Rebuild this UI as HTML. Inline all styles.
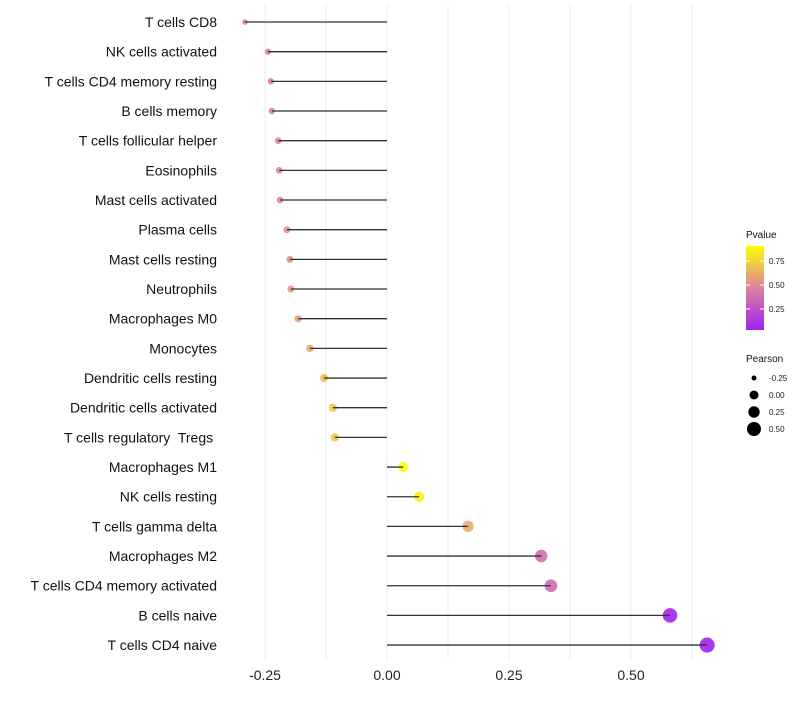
<!DOCTYPE html>
<html><head><meta charset="utf-8"><style>
body{margin:0;background:#fff;font-family:"Liberation Sans",sans-serif}
svg text{font-family:"Liberation Sans",sans-serif;white-space:pre}
</style></head><body>
<svg id="chart" width="800" height="700"></svg>
<script>
const categories=["T cells CD8","NK cells activated","T cells CD4 memory resting","B cells memory","T cells follicular helper","Eosinophils","Mast cells activated","Plasma cells","Mast cells resting","Neutrophils","Macrophages M0","Monocytes","Dendritic cells resting","Dendritic cells activated","T cells regulatory  Tregs ","Macrophages M1","NK cells resting","T cells gamma delta","Macrophages M2","T cells CD4 memory activated","B cells naive","T cells CD4 naive"];
const pearson=[-0.291,-0.244,-0.238,-0.236,-0.223,-0.221,-0.219,-0.205,-0.199,-0.197,-0.182,-0.158,-0.129,-0.111,-0.107,0.033,0.066,0.166,0.316,0.336,0.58,0.656];
const pvalue=[0.45,0.46,0.47,0.47,0.48,0.49,0.49,0.52,0.53,0.54,0.58,0.62,0.68,0.72,0.72,0.91,0.86,0.63,0.38,0.37,0.05,0.04];
const xTicks=[-0.25,0,0.25,0.5];
const xTickLabels=["-0.25","0.00","0.25","0.50"];
const legendP=[0.75,0.5,0.25];
const legendPearson=[-0.25,0,0.25,0.5];
const NS="http://www.w3.org/2000/svg";
const svg=document.getElementById('chart');
const xs=v=>387+v*488;
const ys=i=>22+i*29.67;
const rs=v=>Math.sqrt(Math.max(4,10+52*(v+0.244)));
function col(p){
 const stops=[[0.03,[160,32,240]],[0.47,[220,130,160]],[0.91,[255,255,0]]];
 if(p<=stops[0][0])return 'rgb('+stops[0][1]+')';
 for(let k=0;k<2;k++){const a=stops[k],b=stops[k+1];
  if(p<=b[0]){const t=(p-a[0])/(b[0]-a[0]);return 'rgb('+a[1].map((c,j)=>Math.round(c+(b[1][j]-c)*t)).join(',')+')';}}
 return 'rgb(255,255,0)';
}
function mk(t,a,p){const e=document.createElementNS(NS,t);for(const k in a)e.setAttribute(k,a[k]);(p||svg).appendChild(e);return e;}
for(let g=-0.25;g<=0.626;g+=0.125){
 const l=mk('line',{x1:xs(g),x2:xs(g),y1:5,y2:660,stroke:'#eeeeee','stroke-width':1});
 
 
}
xTicks.forEach((v,i)=>{
 const t=mk('text',{x:xs(v),y:680,'text-anchor':'middle','font-size':14,fill:'#222'});
 t.textContent=xTickLabels[i];
 
 
});
categories.forEach((c,i)=>{
 const y=ys(i);
 const t=mk('text',{x:217,y:y+5,'text-anchor':'end','font-size':14,fill:'#111'});
 t.textContent=c;
 
 
 const d=mk('circle',{cx:xs(pearson[i]),cy:y,r:rs(pearson[i]),fill:col(pvalue[i]),'fill-opacity':0.9});
 
 
 const l=mk('line',{x1:xs(0),x2:xs(pearson[i]),y1:y,y2:y,stroke:'#333','stroke-width':1.3});
 
 
});
const lt=mk('text',{x:746,y:238,'font-size':10,fill:'#111'});lt.textContent='Pvalue';


const defs=mk('defs',{});
const gr=mk('linearGradient',{id:'pg',x1:0,y1:1,x2:0,y2:0},defs);
[0,0.25,0.5,0.75,1].forEach(f=>{const p=0.031+f*(0.906-0.031);mk('stop',{offset:f,'stop-color':col(p)},gr);});
const bar=mk('rect',{x:746,y:246,width:18,height:84,fill:'url(#pg)'});


legendP.forEach(p=>{
 const y=330-(p-0.031)/(0.875)*84;
 mk('line',{x1:746,x2:750,y1:y,y2:y,stroke:'#fff'});mk('line',{x1:760,x2:764,y1:y,y2:y,stroke:'#fff'});
 const t=mk('text',{x:769,y:y+3,'font-size':8,fill:'#222'});t.textContent=p.toFixed(2);
 
 
});
const pt=mk('text',{x:746,y:362,'font-size':10,fill:'#111'});pt.textContent='Pearson';


const lr=[2.5,4.5,5.7,7];
legendPearson.forEach((v,i)=>{
 const y=378+i*17;
 const c=mk('circle',{cx:754,cy:y,r:lr[i],fill:'#000'});
 
 
 const t=mk('text',{x:769,y:y+3,'font-size':8,fill:'#222'});t.textContent=v.toFixed(2);
 
 
});
</script>
</body></html>
